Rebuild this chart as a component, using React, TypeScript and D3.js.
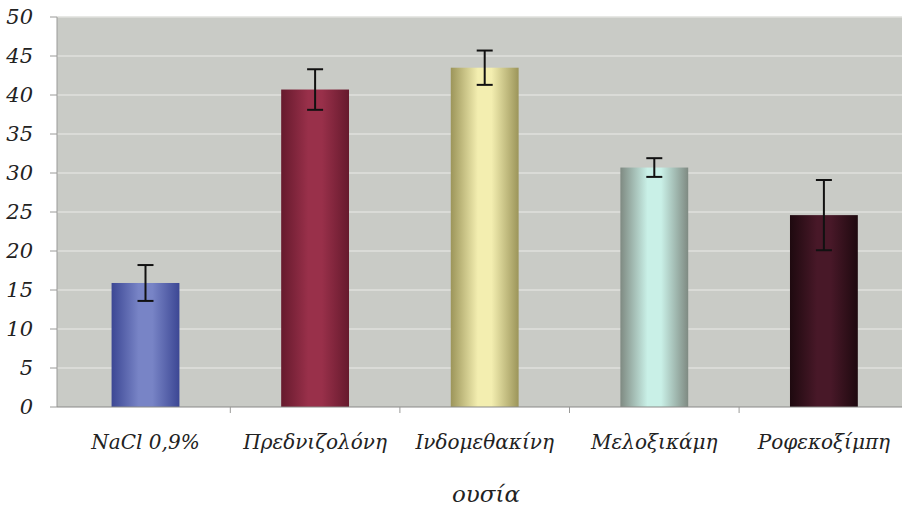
import React from "react";
import * as d3 from "d3";

const categories = ["NaCl 0,9%", "Πρεδνιζολόνη", "Ινδομεθακίνη", "Μελοξικάμη", "Ροφεκοξίμπη"];
const values = [15.9, 40.7, 43.5, 30.7, 24.6];
const errors = [2.3, 2.6, 2.2, 1.2, 4.5];
const yTicks = [0, 5, 10, 15, 20, 25, 30, 35, 40, 45, 50];
const axisTitle = "ουσία";

const barColors = [
  { edge: "#3c4794", mid: "#7884c6" },
  { edge: "#661a2d", mid: "#99304a" },
  { edge: "#9c955a", mid: "#f3eeb0" },
  { edge: "#7f8a82", mid: "#c9f0e7" },
  { edge: "#1e090f", mid: "#481828" },
];

const W = 902;
const H = 514;
const plotLeft = 57;
const plotRight = 902;
const plotTop = 17;
const plotBottom = 407;

const font = "'DejaVu Serif', serif";

export default function App() {
  const y = d3.scaleLinear().domain([0, 50]).range([plotBottom, plotTop]);
  const x = d3
    .scaleBand<string>()
    .domain(categories)
    .range([60.7, 908.7])
    .paddingInner(0.6)
    .paddingOuter(0.3);
  const step = x.step();
  const textStyle = { fontFamily: font, fontStyle: "italic" as const };

  return (
    <svg
      width={W}
      height={H}
      style={{ position: "absolute", left: 0, top: 0, display: "block", background: "#fff" }}
    >
      <defs>
        {barColors.map((c, i) => (
          <linearGradient key={i} id={`g${i}`} x1="0" x2="1" y1="0" y2="0">
            <stop offset="0%" stopColor={c.edge} />
            <stop offset="40%" stopColor={c.mid} />
            <stop offset="60%" stopColor={c.mid} />
            <stop offset="100%" stopColor={c.edge} />
          </linearGradient>
        ))}
      </defs>
      <rect
        x={plotLeft}
        y={plotTop}
        width={plotRight - plotLeft}
        height={plotBottom - plotTop}
        fill="#c9cbc6"
      />
      {yTicks.slice(1).map((t) => (
        <line
          key={t}
          x1={plotLeft}
          x2={plotRight}
          y1={y(t)}
          y2={y(t)}
          stroke="#dfe0dd"
          strokeWidth={1.5}
        />
      ))}
      <line x1={plotLeft} x2={plotLeft} y1={plotTop} y2={plotBottom} stroke="#9a9a98" strokeWidth={1} />
      {yTicks.map((t) => (
        <g key={t}>
          <line x1={plotLeft - 7} x2={plotLeft} y1={y(t)} y2={y(t)} stroke="#9a9a98" strokeWidth={1} />
          <text
            x={33}
            y={y(t)}
            textAnchor="end"
            dominantBaseline="central"
            style={textStyle}
            fontSize={21}
            fill="#222"
          >
            {t}
          </text>
        </g>
      ))}
      {categories.map((c, i) => {
        const bx = x(c)!;
        const bw = x.bandwidth();
        const cx = bx + bw / 2;
        const v = values[i];
        const e = errors[i];
        return (
          <g key={c}>
            <rect x={bx} y={y(v)} width={bw} height={plotBottom - y(v)} fill={`url(#g${i})`} />
            <line x1={cx} x2={cx} y1={y(v + e)} y2={y(v - e)} stroke="#111" strokeWidth={2} />
            <line x1={cx - 8} x2={cx + 8} y1={y(v + e)} y2={y(v + e)} stroke="#111" strokeWidth={2} />
            <line x1={cx - 8} x2={cx + 8} y1={y(v - e)} y2={y(v - e)} stroke="#111" strokeWidth={2} />
            <text x={cx} y={449} textAnchor="middle" style={textStyle} fontSize={20} fill="#222">
              {c}
            </text>
          </g>
        );
      })}
      <line x1={plotLeft} x2={plotRight} y1={plotBottom} y2={plotBottom} stroke="#8a8a88" strokeWidth={1.2} />
      {categories.slice(0, -1).map((c) => {
        const tx = x(c)! - step * 0.3 + step;
        return (
          <line key={c} x1={tx} x2={tx} y1={plotBottom} y2={plotBottom + 6} stroke="#9a9a98" strokeWidth={1} />
        );
      })}
      <text x={486} y={502} textAnchor="middle" style={textStyle} fontSize={23} fill="#222">
        {axisTitle}
      </text>
    </svg>
  );
}
